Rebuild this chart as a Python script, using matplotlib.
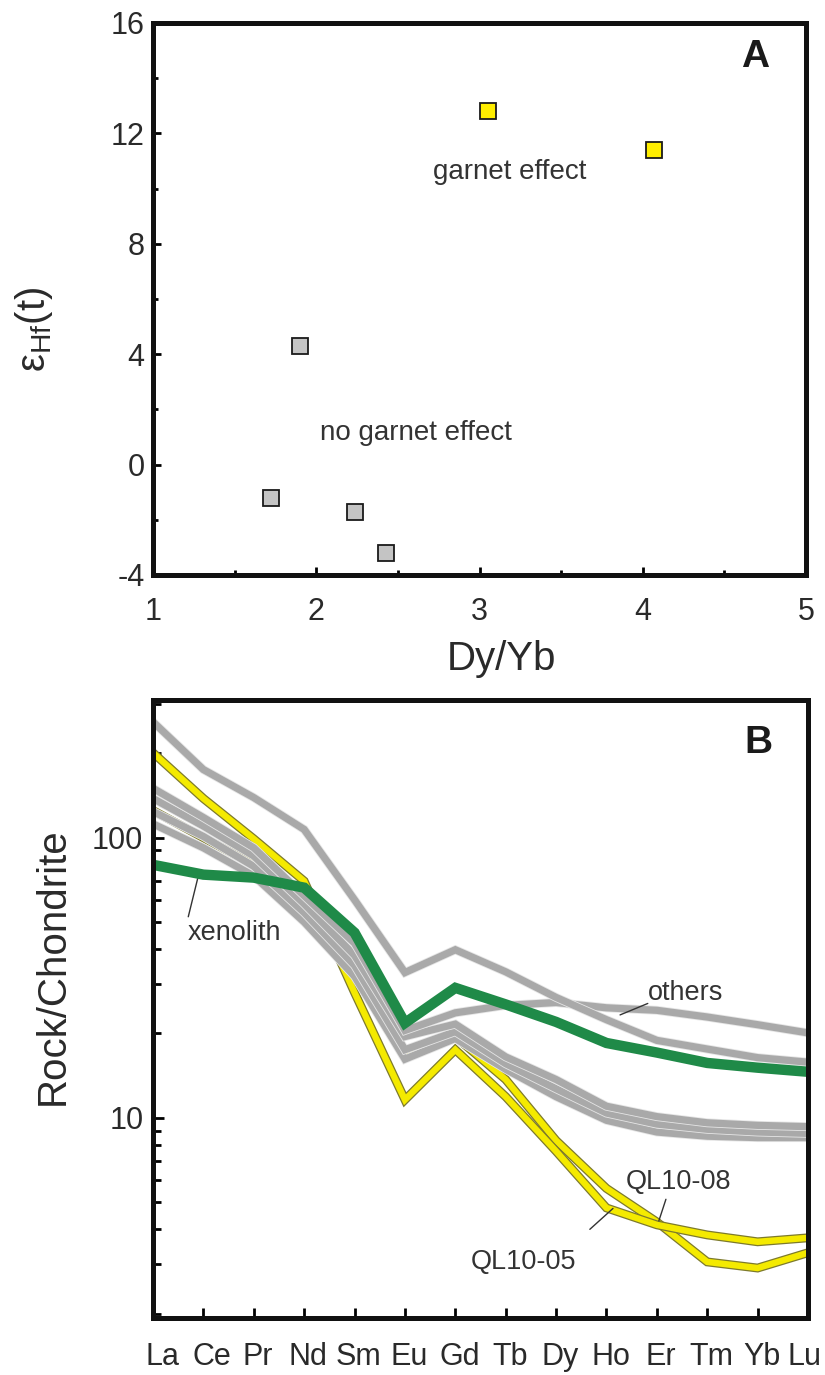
import matplotlib.pyplot as plt
import matplotlib.patheffects as pe
from matplotlib.ticker import MultipleLocator, LogLocator, NullFormatter
from matplotlib.transforms import ScaledTranslation
import numpy as np

plt.rcParams['font.family'] = ['Liberation Sans', 'DejaVu Sans']
plt.rcParams['axes.unicode_minus'] = False
plt.rcParams['mathtext.fontset'] = 'custom'
plt.rcParams['mathtext.rm'] = 'Liberation Sans'
plt.rcParams['mathtext.it'] = 'Liberation Sans:italic'

# ---- panel A data: eHf(t) vs Dy/Yb
garnet_x = [3.05, 4.07]
garnet_y = [12.8, 11.4]
nogarnet_x = [1.90, 1.72, 2.24, 2.43]
nogarnet_y = [4.3, -1.2, -1.7, -3.2]

# ---- panel B data: chondrite-normalised REE
ree = ['La', 'Ce', 'Pr', 'Nd', 'Sm', 'Eu', 'Gd', 'Tb', 'Dy', 'Ho', 'Er', 'Tm', 'Yb', 'Lu']
others_a = [259, 175, 139, 107, 60, 33, 39.8, 33.2, 26.9, 22.4, 18.9, 17.6, 16.4, 15.8]
others_b = [150, 118, 92, 62, 42, 20.5, 23.7, 25.2, 25.8, 24.7, 24.2, 22.9, 21.5, 20.1]
others_c = [138, 110, 86, 58, 38, 19.5, 21.6, 16.5, 13.7, 11.0, 10.1, 9.6, 9.4, 9.3]
others_d = [124, 101, 79, 54, 35, 17.5, 20.3, 15.6, 12.7, 10.4, 9.5, 9.1, 8.9, 8.8]
others_e = [112, 92, 73, 50, 32, 16.2, 19.2, 14.9, 11.9, 9.8, 8.9, 8.6, 8.5, 8.5]
ql10_05 = [201, 138, 99, 70, 28, 11.6, 17.5, 11.9, 7.6, 4.77, 4.15, 3.82, 3.61, 3.73]
ql10_08 = [125, 100, 80, 56, 34, 16.8, 19.5, 13.7, 8.3, 5.6, 4.25, 3.06, 2.91, 3.30]
xenolith = [80, 73.8, 72, 66.3, 45.8, 21.8, 29.1, 25.4, 22, 18.5, 17.1, 15.7, 15.1, 14.6]

txt = '#2a2a2a'
fig = plt.figure(figsize=(8.25, 13.75), dpi=100)

# ================= panel A
axA = fig.add_axes([153/825, 1-575/1375, 653/825, 552/1375])
axA.plot(nogarnet_x, nogarnet_y, 's', ms=11.5, mfc='#c4c4c4', mec='#1a1a1a', mew=1.3)
axA.plot(garnet_x, garnet_y, 's', ms=11.5, mfc='#ffee00', mec='#1a1a1a', mew=1.3)
axA.set_xlim(1, 5)
axA.set_ylim(-4, 16)
axA.xaxis.set_major_locator(MultipleLocator(1))
axA.xaxis.set_minor_locator(MultipleLocator(0.5))
axA.yaxis.set_major_locator(MultipleLocator(4))
axA.yaxis.set_minor_locator(MultipleLocator(2))
axA.tick_params(which='both', direction='in', top=False, right=False, width=2, labelsize=22, labelcolor=txt)
axA.tick_params(which='major', length=6)
axA.tick_params(which='minor', length=3.5)
axA.tick_params(axis='x', pad=15.5)
axA.tick_params(axis='y', pad=6)
axA.text(2.715, 10.6, 'garnet effect', fontsize=20, color='#333333', va='center')
axA.text(2.02, 1.14, 'no garnet effect', fontsize=20, color='#333333', va='center')
axA.text(0.922, 0.938, 'A', transform=axA.transAxes, fontsize=28, fontweight='bold', ha='center', va='center', color='#1a1a1a')
axA.set_xlabel('Dy/Yb', fontsize=29, color=txt)
axA.xaxis.set_label_coords(0.534, -0.118)
axA.set_ylabel('ε$_{\\mathrm{Hf}}$(t)', fontsize=29, color=txt)
axA.yaxis.set_label_coords(-0.15, 0.445)

# ================= panel B
axB = fig.add_axes([153/825, 1-1318/1375, 655/825, 618/1375])
x = np.arange(len(ree))
gray_fx = [pe.Stroke(linewidth=6.4, foreground='#e6e6e6'), pe.Normal()]
yel_fx = [pe.Stroke(linewidth=6.4, foreground='#7d7a2c'), pe.Normal()]
for s in [ql10_08, ql10_05]:
    axB.plot(x, s, color='#f4ea00', lw=4.6, solid_joinstyle='miter', path_effects=yel_fx, zorder=2)
for s in [others_e, others_d, others_c, others_b, others_a]:
    axB.plot(x, s, color='#a9a9a9', lw=5.2, solid_joinstyle='miter', path_effects=gray_fx, zorder=3)
axB.plot(x, xenolith, color='#1f8a48', lw=7.5, solid_joinstyle='miter', zorder=4)

axB.set_yscale('log')
axB.set_ylim(1.93, 310)
axB.set_xlim(0, 13)
axB.set_xticks(x)
axB.set_xticklabels(ree)
axB.yaxis.set_major_locator(LogLocator(base=10))
axB.yaxis.set_minor_locator(LogLocator(base=10, subs=np.arange(2, 10)))
axB.yaxis.set_minor_formatter(NullFormatter())
axB.set_yticks([10, 100], ['10', '100'])
axB.tick_params(which='both', direction='in', top=False, right=False, width=2, labelsize=22, labelcolor=txt)
axB.tick_params(axis='y', which='major', length=8, pad=7)
axB.tick_params(axis='y', which='minor', length=5.5)
axB.tick_params(axis='x', length=7, pad=17)
shift = {'La': 10, 'Ce': 8, 'Lu': -3}
for lab in axB.get_xticklabels():
    dx = shift.get(lab.get_text(), 4)
    lab.set_transform(lab.get_transform() + ScaledTranslation(dx/100, 0, fig.dpi_scale_trans))
axB.set_ylabel('Rock/Chondrite', fontsize=29, color=txt)
axB.yaxis.set_label_coords(-0.124, 0.57)
axB.text(0.924, 0.930, 'B', transform=axB.transAxes, fontsize=28, fontweight='bold', ha='center', va='center', color='#1a1a1a')

lead = dict(arrowstyle='-', lw=1.0, color='#333333', shrinkA=0, shrinkB=0)
axB.text(0.695, 45.8, 'xenolith', fontsize=19.5, color='#333333', va='center')
axB.annotate('', xy=(0.93, 76.9), xytext=(0.70, 52.2), arrowprops=lead)
axB.text(9.825, 27.9, 'others', fontsize=19.5, color='#333333', va='center')
axB.annotate('', xy=(9.27, 23.3), xytext=(9.82, 25.6), arrowprops=lead)
axB.text(10.42, 5.9, 'QL10-08', fontsize=19.5, color='#333333', va='center', ha='center')
axB.annotate('', xy=(10.04, 4.29), xytext=(10.18, 5.12), arrowprops=lead)
axB.text(7.36, 3.05, 'QL10-05', fontsize=19.5, color='#333333', va='center', ha='center')
axB.annotate('', xy=(9.13, 4.75), xytext=(8.67, 4.0), arrowprops=lead)

for ax in (axA, axB):
    for sp in ax.spines.values():
        sp.set_linewidth(3.6)
        sp.set_color('#111111')
        sp.set_zorder(6)

fig.savefig('out.png', dpi=100)
